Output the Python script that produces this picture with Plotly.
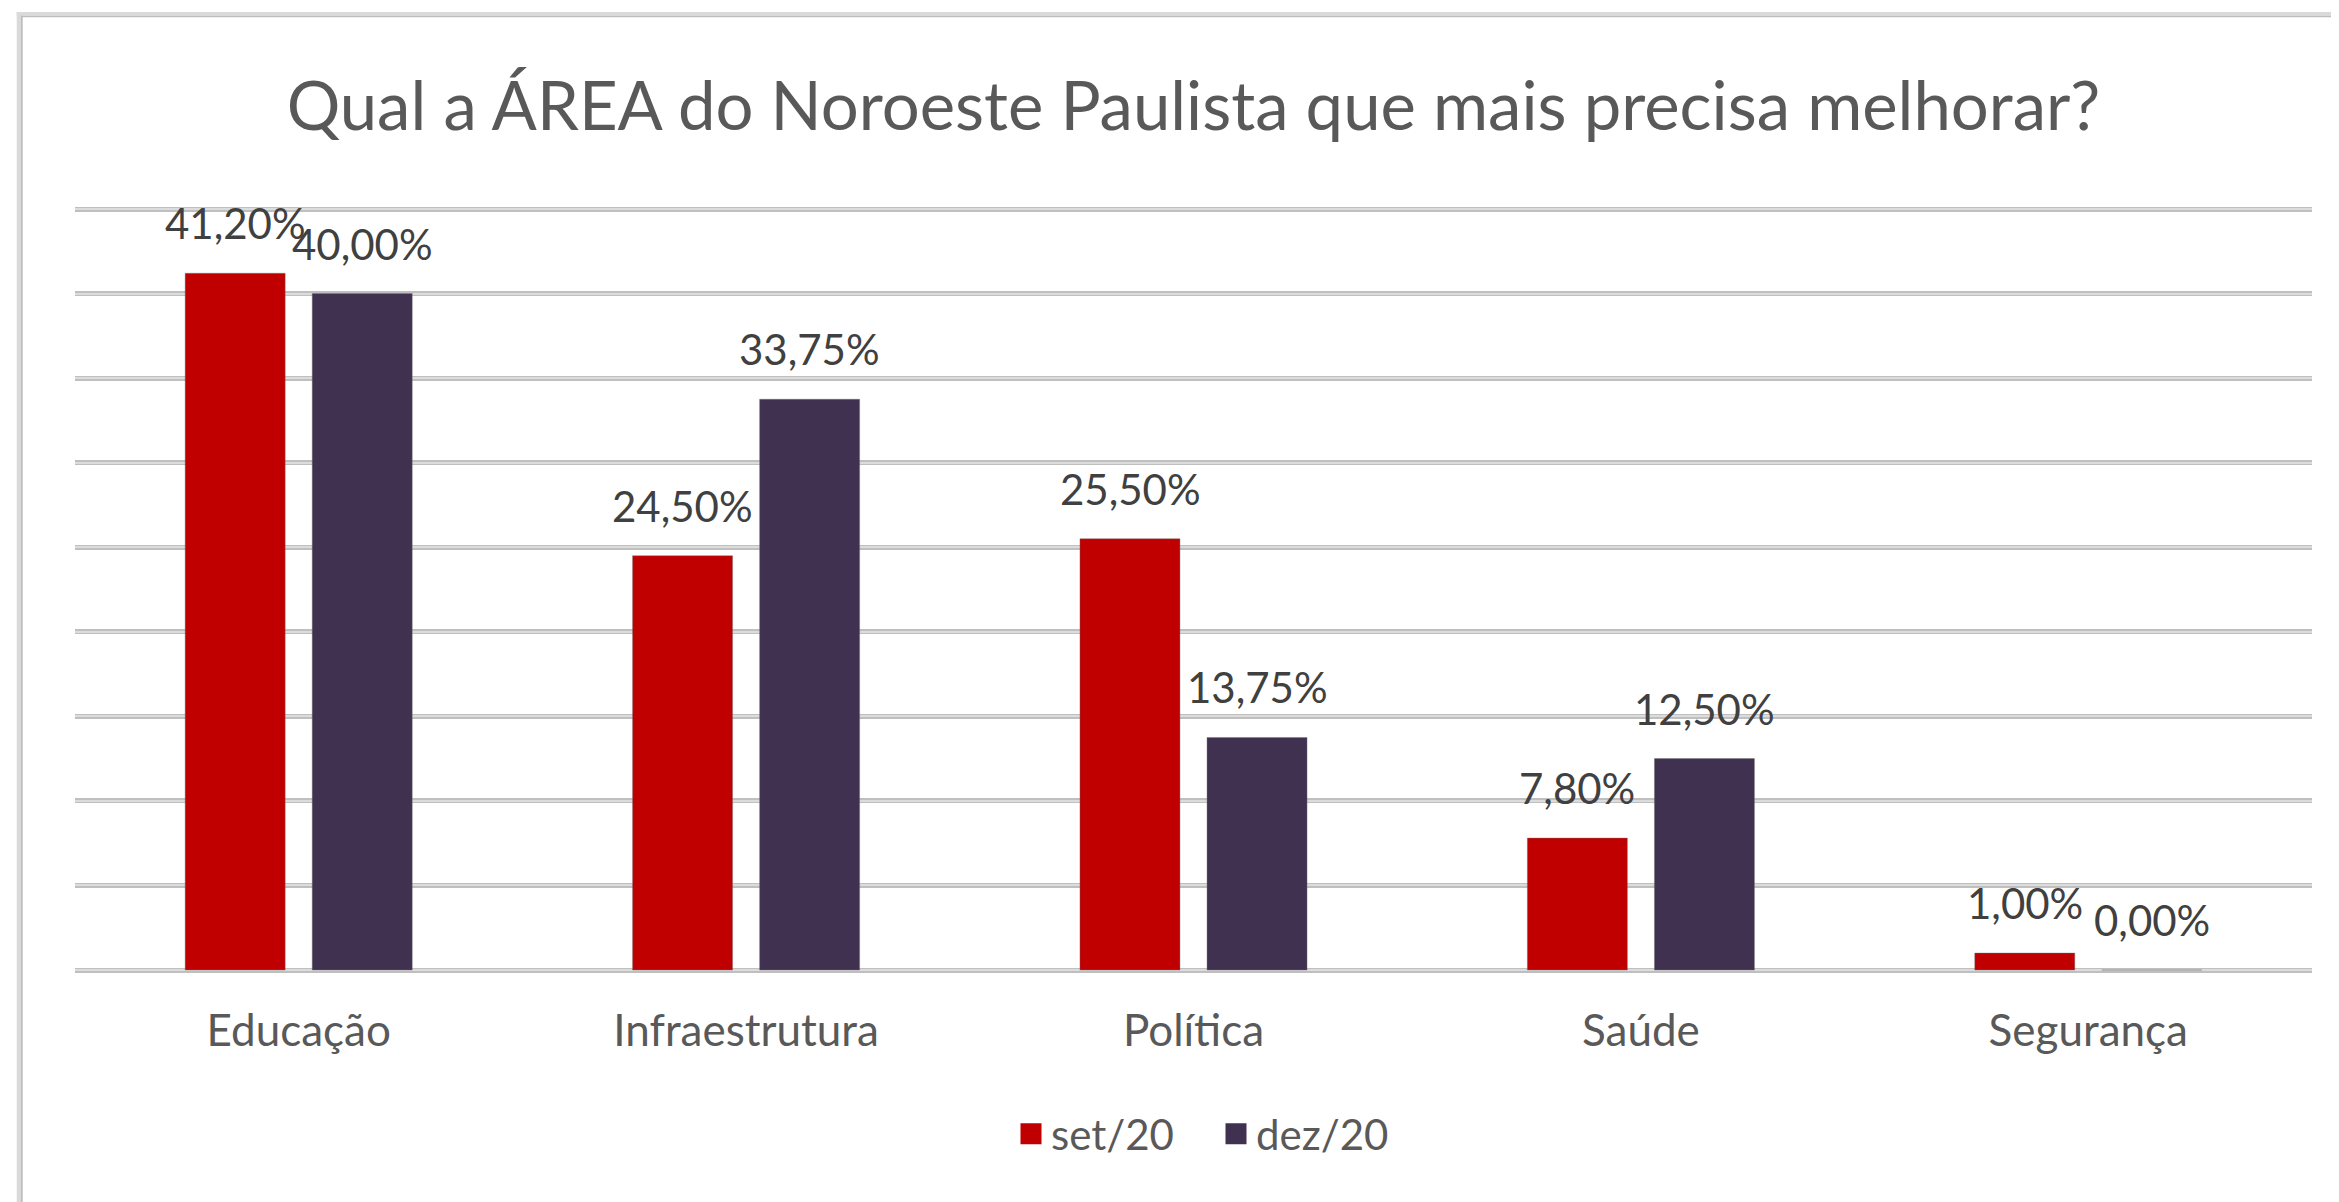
import plotly.graph_objects as go

# ---------------- data ----------------
categories = ["Educação", "Infraestrutura", "Política", "Saúde", "Segurança"]
set20 = [41.20, 24.50, 25.50, 7.80, 1.00]
dez20 = [40.00, 33.75, 13.75, 12.50, 0.00]
series_names = ["set/20", "dez/20"]
series_colors = ["#C00000", "#403151"]
y_ticks = [0, 5, 10, 15, 20, 25, 30, 35, 40, 45]
y_max = 45
title_text = "Qual a ÁREA do Noroeste Paulista que mais precisa melhorar?"

# ---------------- layout geometry ----------------
W, H = 2339, 1202
OFF = 8                      # page body margin compensation
PAD = 5                      # extra px so edge gridlines are drawn
L, R = 75 - OFF, 2312 - OFF
T, B = 209 - OFF - PAD, 970 - OFF + PAD
PX_PER_UNIT = (970 - 209) / y_max
EXT = PAD / PX_PER_UNIT
FONT = "Lato, Calibri, Carlito, 'Open Sans', sans-serif"


def pxx(px):
    return (px - OFF - L) / (R - L)


def pxy(py):
    return (B - (py - OFF)) / (B - T)


fig = go.Figure()

series = [set20, dez20]
for name, vals, col in zip(series_names, series, series_colors):
    fig.add_trace(go.Bar(
        x=categories, y=vals, name=name,
        marker=dict(color=col, line=dict(width=1, color="rgba(110,110,110,0.40)")),
        showlegend=False, hoverinfo="skip",
    ))

# legend entries (square markers) on the overlay axis
for name, col in zip(series_names, series_colors):
    fig.add_trace(go.Scatter(
        x=[None], y=[None], mode="markers", name=name, yaxis="y2",
        marker=dict(symbol="square", size=16, color=col,
                    line=dict(width=5, color=col)),
        showlegend=True,
    ))

# data labels
shifts = [-63.5, 63.5]
for vals, sh in zip(series, shifts):
    for c, v in zip(categories, vals):
        fig.add_annotation(
            x=c, y=v, xref="x", yref="y",
            text=f"{v:.2f}%".replace(".", ","),
            showarrow=False, xshift=sh, yshift=50, yanchor="middle",
            font=dict(family=FONT, size=42, color="#404040"),
        )

# chart frame (top and left edges, two-tone)
shapes = [
    dict(type="rect", xref="paper", yref="paper", x0=pxx(16.7), x1=pxx(2360),
         y0=pxy(15.7), y1=pxy(12), fillcolor="#dadada", line=dict(width=0), layer="above"),
    dict(type="rect", xref="paper", yref="paper", x0=pxx(20.7), x1=pxx(2360),
         y0=pxy(17.3), y1=pxy(15.7), fillcolor="#bdbdbd", line=dict(width=0), layer="above"),
    dict(type="rect", xref="paper", yref="paper", x0=pxx(16.7), x1=pxx(20.7),
         y0=pxy(1230), y1=pxy(12), fillcolor="#dadada", line=dict(width=0), layer="above"),
    dict(type="rect", xref="paper", yref="paper", x0=pxx(20.7), x1=pxx(22.7),
         y0=pxy(1230), y1=pxy(15.7), fillcolor="#bdbdbd", line=dict(width=0), layer="above"),
]

yrange = [-EXT, y_max + EXT]

fig.update_layout(
    width=W, height=H,
    margin=dict(l=L, r=W - R, t=T, b=H - B, pad=0),
    paper_bgcolor="white", plot_bgcolor="white",
    barmode="group", bargap=0.432, bargroupgap=0.213,
    font=dict(family=FONT, size=42, color="#595959"),
    title=dict(text=title_text, x=0.5, xref="paper", xanchor="center",
               y=1 - (107 - OFF) / H, yref="container", yanchor="middle",
               font=dict(family=FONT, size=67, color="#595959")),
    xaxis=dict(showgrid=False, showline=False, zeroline=False,
               ticks="outside", ticklen=12 + PAD, tickcolor="rgba(0,0,0,0)",
               tickfont=dict(family=FONT, size=44, color="#595959")),
    yaxis=dict(range=yrange, tickvals=y_ticks, showticklabels=False,
               showgrid=True, gridcolor="#bfbfbf", gridwidth=5,
               zeroline=False, showline=False),
    yaxis2=dict(overlaying="y", range=yrange, tickvals=y_ticks, showticklabels=False,
                showgrid=True, gridcolor="#dcdcdc", gridwidth=2,
                zeroline=False, showline=False),
    legend=dict(orientation="h", x=pxx(1011), xanchor="left",
                y=pxy(1134), yanchor="middle",
                font=dict(family=FONT, size=42, color="#595959"),
                entrywidth=160, bgcolor="rgba(0,0,0,0)", itemclick=False),
    shapes=shapes,
    showlegend=True,
)

fig.write_html("out.html")
